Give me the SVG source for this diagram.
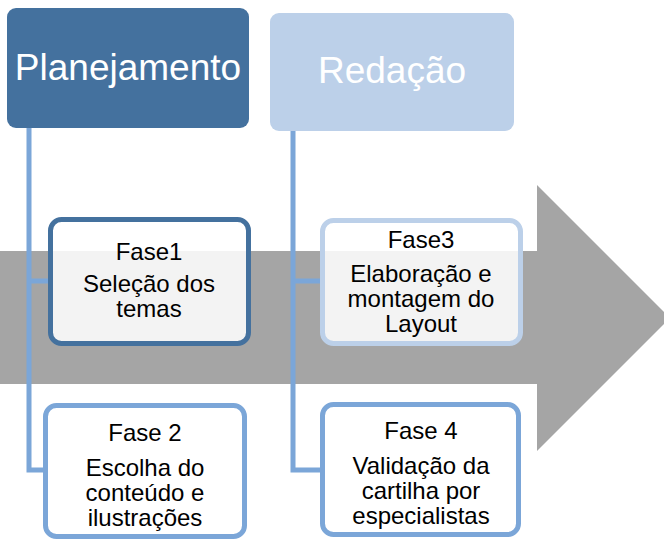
<svg xmlns="http://www.w3.org/2000/svg" width="664" height="540" viewBox="0 0 664 540">
<style>
text{font-family:"Liberation Sans",Arial,sans-serif;text-anchor:middle;}
.hd{font-size:37px;fill:#ffffff;}
.tx{font-size:24px;fill:#000000;}
.con{fill:none;stroke:#7BA6D8;stroke-width:5;}
.ph{stroke-width:5;}
</style>
<rect width="664" height="540" fill="#ffffff"/>
<polygon id="arrow" points="0,251 537,251 537,185 670,318 537,451 537,384 0,384" fill="#A5A5A5"/>
<g id="connectors">
<path class="con" d="M29,128 V470 H46"/>
<path class="con" d="M29,281 H50"/>
<path class="con" d="M293,131 V470 H322"/>
<path class="con" d="M293,281 H322"/>
</g>
<g id="planejamento">
<rect x="7" y="8" width="242" height="120" rx="9" fill="#44719E"/>
<text class="hd" x="128" y="80">Planejamento</text>
</g>
<g id="redacao">
<rect x="270" y="13" width="244" height="118" rx="9" fill="#BCD0E9"/>
<text class="hd" x="392" y="83">Redação</text>
</g>
<g id="fase1">
<rect class="ph" x="50.5" y="219.5" width="198" height="124" rx="11" fill="#ffffff" fill-opacity="0.87" stroke="#44719E"/>
<text class="tx" x="149" y="260">Fase1</text>
<text class="tx" x="149" y="292">Seleção dos</text>
<text class="tx" x="149" y="317">temas</text>
</g>
<g id="fase3">
<rect class="ph" x="322.5" y="220.5" width="198" height="123" rx="11" fill="#ffffff" fill-opacity="0.87" stroke="#BCD0E9"/>
<text class="tx" x="421" y="248">Fase3</text>
<text class="tx" x="421" y="282">Elaboração e</text>
<text class="tx" x="421" y="307">montagem do</text>
<text class="tx" x="421" y="332">Layout</text>
</g>
<g id="fase2">
<rect class="ph" x="45.5" y="405.5" width="199" height="131" rx="11" fill="#ffffff" stroke="#7BA6D8"/>
<text class="tx" x="145" y="441">Fase 2</text>
<text class="tx" x="145" y="476">Escolha do</text>
<text class="tx" x="145" y="501">conteúdo e</text>
<text class="tx" x="145" y="526">ilustrações</text>
</g>
<g id="fase4">
<rect class="ph" x="322.5" y="404.5" width="196" height="130" rx="11" fill="#ffffff" stroke="#7BA6D8"/>
<text class="tx" x="421" y="439">Fase 4</text>
<text class="tx" x="421" y="474">Validação da</text>
<text class="tx" x="421" y="499">cartilha por</text>
<text class="tx" x="421" y="524">especialistas</text>
</g>
</svg>
